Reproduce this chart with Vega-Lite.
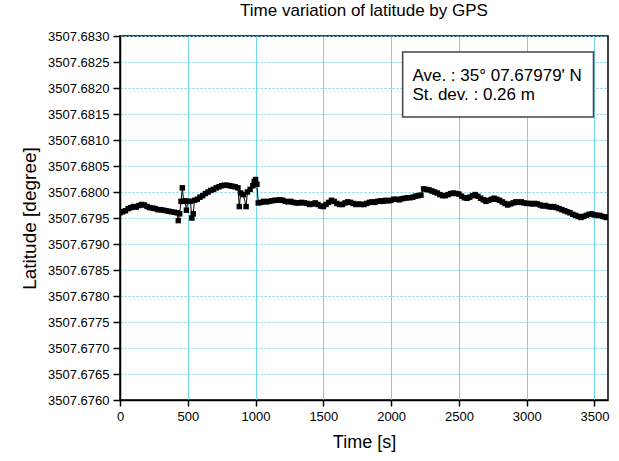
{
  "$schema": "https://vega.github.io/schema/vega-lite/v6.json",
  "width": 488,
  "height": 364,
  "autosize": {"type": "none"},
  "padding": {"left": 120, "top": 36, "right": 11, "bottom": 61},
  "background": "white",
  "config": {
    "font": "Liberation Sans",
    "view": {"stroke": "black", "strokeWidth": 1.5}
  },
  "title": {"text": "Time variation of latitude by GPS", "fontSize": 17, "fontWeight": "normal", "font": "Liberation Sans", "color": "black", "offset": 10, "anchor": "middle"},
  "data": {"values": [
    {"t":0,"lat":3507.67960},{"t":20,"lat":3507.67962},{"t":40,"lat":3507.67964},{"t":60,"lat":3507.67968},{"t":80,"lat":3507.67970},{"t":100,"lat":3507.67972},{"t":120,"lat":3507.67971},{"t":140,"lat":3507.67974},{"t":160,"lat":3507.67976},{"t":180,"lat":3507.67975},{"t":200,"lat":3507.67972},{"t":220,"lat":3507.67970},{"t":240,"lat":3507.67969},{"t":260,"lat":3507.67968},{"t":280,"lat":3507.67966},{"t":300,"lat":3507.67966},{"t":320,"lat":3507.67965},{"t":340,"lat":3507.67964},{"t":360,"lat":3507.67963},{"t":380,"lat":3507.67962},{"t":400,"lat":3507.67961},{"t":420,"lat":3507.67960},{"t":430,"lat":3507.67945},{"t":440,"lat":3507.67958},{"t":450,"lat":3507.67982},{"t":460,"lat":3507.68008},{"t":470,"lat":3507.67982},{"t":480,"lat":3507.67983},{"t":490,"lat":3507.67965},{"t":500,"lat":3507.67982},{"t":520,"lat":3507.67982},{"t":530,"lat":3507.67950},{"t":540,"lat":3507.67958},{"t":550,"lat":3507.67984},{"t":570,"lat":3507.67986},{"t":590,"lat":3507.67990},{"t":610,"lat":3507.67993},{"t":630,"lat":3507.67997},{"t":650,"lat":3507.68000},{"t":670,"lat":3507.68003},{"t":690,"lat":3507.68005},{"t":710,"lat":3507.68008},{"t":730,"lat":3507.68010},{"t":750,"lat":3507.68012},{"t":770,"lat":3507.68013},{"t":790,"lat":3507.68013},{"t":810,"lat":3507.68012},{"t":830,"lat":3507.68011},{"t":850,"lat":3507.68010},{"t":870,"lat":3507.68008},{"t":880,"lat":3507.67972},{"t":890,"lat":3507.67998},{"t":910,"lat":3507.67995},{"t":930,"lat":3507.67972},{"t":940,"lat":3507.68000},{"t":960,"lat":3507.68005},{"t":980,"lat":3507.68012},{"t":990,"lat":3507.68020},{"t":1000,"lat":3507.68024},{"t":1010,"lat":3507.68015},{"t":1020,"lat":3507.67979},{"t":1040,"lat":3507.67980},{"t":1060,"lat":3507.67982},{"t":1080,"lat":3507.67981},{"t":1100,"lat":3507.67982},{"t":1120,"lat":3507.67983},{"t":1140,"lat":3507.67984},{"t":1160,"lat":3507.67984},{"t":1180,"lat":3507.67985},{"t":1200,"lat":3507.67984},{"t":1220,"lat":3507.67982},{"t":1240,"lat":3507.67981},{"t":1260,"lat":3507.67982},{"t":1280,"lat":3507.67980},{"t":1300,"lat":3507.67979},{"t":1320,"lat":3507.67979},{"t":1340,"lat":3507.67980},{"t":1360,"lat":3507.67979},{"t":1380,"lat":3507.67978},{"t":1400,"lat":3507.67976},{"t":1420,"lat":3507.67977},{"t":1440,"lat":3507.67979},{"t":1460,"lat":3507.67976},{"t":1480,"lat":3507.67973},{"t":1500,"lat":3507.67972},{"t":1520,"lat":3507.67976},{"t":1540,"lat":3507.67980},{"t":1560,"lat":3507.67984},{"t":1580,"lat":3507.67982},{"t":1600,"lat":3507.67978},{"t":1620,"lat":3507.67976},{"t":1640,"lat":3507.67976},{"t":1660,"lat":3507.67979},{"t":1680,"lat":3507.67981},{"t":1700,"lat":3507.67980},{"t":1720,"lat":3507.67978},{"t":1740,"lat":3507.67976},{"t":1760,"lat":3507.67977},{"t":1780,"lat":3507.67976},{"t":1800,"lat":3507.67976},{"t":1820,"lat":3507.67978},{"t":1840,"lat":3507.67980},{"t":1860,"lat":3507.67981},{"t":1880,"lat":3507.67980},{"t":1900,"lat":3507.67982},{"t":1920,"lat":3507.67983},{"t":1940,"lat":3507.67982},{"t":1960,"lat":3507.67984},{"t":1980,"lat":3507.67983},{"t":2000,"lat":3507.67984},{"t":2020,"lat":3507.67986},{"t":2040,"lat":3507.67986},{"t":2060,"lat":3507.67985},{"t":2080,"lat":3507.67987},{"t":2100,"lat":3507.67988},{"t":2120,"lat":3507.67989},{"t":2140,"lat":3507.67989},{"t":2160,"lat":3507.67990},{"t":2180,"lat":3507.67992},{"t":2200,"lat":3507.67993},{"t":2220,"lat":3507.67994},{"t":2240,"lat":3507.68006},{"t":2260,"lat":3507.68005},{"t":2280,"lat":3507.68004},{"t":2300,"lat":3507.68002},{"t":2320,"lat":3507.68000},{"t":2340,"lat":3507.67998},{"t":2360,"lat":3507.67995},{"t":2380,"lat":3507.67993},{"t":2400,"lat":3507.67993},{"t":2420,"lat":3507.67995},{"t":2440,"lat":3507.67997},{"t":2460,"lat":3507.67998},{"t":2480,"lat":3507.67997},{"t":2500,"lat":3507.67996},{"t":2520,"lat":3507.67992},{"t":2540,"lat":3507.67989},{"t":2560,"lat":3507.67988},{"t":2580,"lat":3507.67990},{"t":2600,"lat":3507.67993},{"t":2620,"lat":3507.67995},{"t":2640,"lat":3507.67992},{"t":2660,"lat":3507.67988},{"t":2680,"lat":3507.67985},{"t":2700,"lat":3507.67982},{"t":2720,"lat":3507.67984},{"t":2740,"lat":3507.67986},{"t":2760,"lat":3507.67988},{"t":2780,"lat":3507.67986},{"t":2800,"lat":3507.67984},{"t":2820,"lat":3507.67981},{"t":2840,"lat":3507.67978},{"t":2860,"lat":3507.67975},{"t":2880,"lat":3507.67977},{"t":2900,"lat":3507.67979},{"t":2920,"lat":3507.67981},{"t":2940,"lat":3507.67980},{"t":2960,"lat":3507.67981},{"t":2980,"lat":3507.67979},{"t":3000,"lat":3507.67978},{"t":3020,"lat":3507.67978},{"t":3040,"lat":3507.67977},{"t":3060,"lat":3507.67978},{"t":3080,"lat":3507.67977},{"t":3100,"lat":3507.67975},{"t":3120,"lat":3507.67973},{"t":3140,"lat":3507.67974},{"t":3160,"lat":3507.67972},{"t":3180,"lat":3507.67971},{"t":3200,"lat":3507.67972},{"t":3220,"lat":3507.67970},{"t":3240,"lat":3507.67968},{"t":3260,"lat":3507.67966},{"t":3280,"lat":3507.67964},{"t":3300,"lat":3507.67962},{"t":3320,"lat":3507.67960},{"t":3340,"lat":3507.67957},{"t":3360,"lat":3507.67955},{"t":3380,"lat":3507.67953},{"t":3400,"lat":3507.67951},{"t":3420,"lat":3507.67953},{"t":3440,"lat":3507.67955},{"t":3460,"lat":3507.67957},{"t":3480,"lat":3507.67958},{"t":3500,"lat":3507.67956},{"t":3520,"lat":3507.67955},{"t":3540,"lat":3507.67955},{"t":3560,"lat":3507.67953},{"t":3580,"lat":3507.67952},{"t":3590,"lat":3507.67951}
  ]},
  "layer": [
    {
      "mark": {"type": "line", "color": "black", "strokeWidth": 1, "clip": true},
      "encoding": {
        "x": {"field": "t", "type": "quantitative", "scale": {"domain": [0, 3600], "nice": false, "zero": false},
          "axis": {"title": "Time [s]", "titleFontSize": 18, "titleFontWeight": "normal", "titleColor": "black", "titlePadding": 10,
            "values": [0,250,500,750,1000,1250,1500,1750,2000,2250,2500,2750,3000,3250,3500],
            "format": "d",
            "labelExpr": "datum.value % 500 === 0 ? datum.label : ''",
            "labelFontSize": 13, "labelColor": "black", "labelPadding": 4, "labelFlush": false, "labelOverlap": false,
            "tickColor": "black", "domainColor": "black", "domainWidth": 1.5, "tickWidth": 1.5,
            "tickSize": {"condition": {"test": "datum.value % 500 === 0", "value": 6}, "value": 3},
            "grid": true, "gridColor": "#74d6e8", "gridWidth": 1,
            "gridOpacity": {"condition": {"test": "datum.value % 500 === 0", "value": 1}, "value": 0}}},
        "y": {"field": "lat", "type": "quantitative", "scale": {"domain": [3507.676, 3507.683], "nice": false, "zero": false},
          "axis": {"title": "Latitude [degree]", "titleFontSize": 19, "titleFontWeight": "normal", "titleColor": "black", "titlePadding": 8,
            "tickCount": 14,
            "format": ".4f",
            "labelFontSize": 13, "labelColor": "black", "labelPadding": 4, "labelFlush": false, "labelOverlap": false, "labelBound": false,
            "tickColor": "black", "domainColor": "black", "domainWidth": 1.5, "tickWidth": 1.5, "tickSize": 7,
            "grid": true, "gridColor": "#74d6e8", "gridWidth": 1, "gridDash": [2, 2],
            "gridOpacity": {"condition": {"test": "abs(round((datum.value - 3507.676) * 4000) % 2) < 0.5", "value": 1}, "value": 0}}}
      }
    },
    {
      "mark": {"type": "point", "shape": "square", "filled": true, "size": 30, "color": "black", "opacity": 1, "clip": true},
      "encoding": {
        "x": {"field": "t", "type": "quantitative"},
        "y": {"field": "lat", "type": "quantitative"}
      }
    },
    {
      "data": {"values": [{"label": "box"}]},
      "mark": {"type": "rect", "fill": "white", "stroke": "#444444", "strokeWidth": 1.5},
      "encoding": {
        "x": {"datum": 2085, "type": "quantitative"},
        "x2": {"datum": 3493},
        "y": {"datum": 3507.68269, "type": "quantitative"},
        "y2": {"datum": 3507.68144}
      }
    },
    {
      "data": {"values": [{"label": "Ave. : 35° 07.67979' N"}]},
      "mark": {"type": "text", "align": "left", "baseline": "middle", "fontSize": 17, "color": "black"},
      "encoding": {
        "text": {"field": "label"},
        "x": {"datum": 2157, "type": "quantitative"},
        "y": {"datum": 3507.68224, "type": "quantitative"}
      }
    },
    {
      "data": {"values": [{"label": "St. dev. : 0.26 m"}]},
      "mark": {"type": "text", "align": "left", "baseline": "middle", "fontSize": 17, "color": "black"},
      "encoding": {
        "text": {"field": "label"},
        "x": {"datum": 2157, "type": "quantitative"},
        "y": {"datum": 3507.68187, "type": "quantitative"}
      }
    }
  ]
}
